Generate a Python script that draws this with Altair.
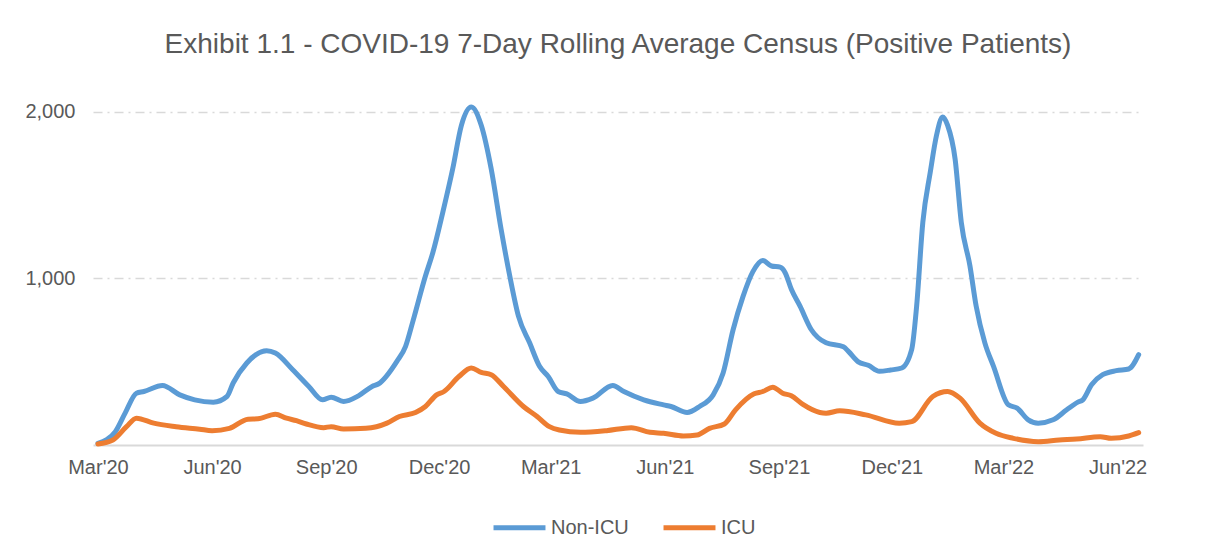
import altair as alt
import pandas as pd

title_text = "Exhibit 1.1 - COVID-19 7-Day Rolling Average Census (Positive Patients)"
series_names = ["Non-ICU", "ICU"]
series_colors = ["#5B9BD5", "#ED7D31"]

non_icu_dates = [
    "2020-03-01", "2020-03-15", "2020-03-23", "2020-04-01", "2020-04-07", "2020-04-22",
    "2020-05-06", "2020-05-18", "2020-06-02", "2020-06-13", "2020-06-18", "2020-06-29",
    "2020-07-15", "2020-07-22", "2020-08-05", "2020-08-18", "2020-08-29", "2020-09-05",
    "2020-09-15", "2020-09-27", "2020-10-08", "2020-10-13", "2020-10-28", "2020-11-04",
    "2020-11-10", "2020-11-20", "2020-11-26", "2020-12-04", "2020-12-12", "2020-12-19",
    "2020-12-27", "2021-01-04", "2021-01-12", "2021-01-20", "2021-01-27", "2021-02-03",
    "2021-02-12", "2021-02-20", "2021-02-27", "2021-03-07", "2021-03-14", "2021-03-25",
    "2021-04-04", "2021-04-20", "2021-04-29", "2021-05-15", "2021-05-31", "2021-06-06",
    "2021-06-19", "2021-06-29", "2021-07-10", "2021-07-18", "2021-07-26", "2021-08-03",
    "2021-08-11", "2021-08-19", "2021-08-26", "2021-09-02", "2021-09-06", "2021-09-11",
    "2021-09-18", "2021-09-27", "2021-10-09", "2021-10-23", "2021-10-27", "2021-11-04",
    "2021-11-12", "2021-11-21", "2021-11-30", "2021-12-09", "2021-12-17", "2021-12-21",
    "2021-12-26", "2022-01-01", "2022-01-06", "2022-01-11", "2022-01-15", "2022-01-21",
    "2022-01-26", "2022-02-02", "2022-02-07", "2022-02-14", "2022-02-21", "2022-03-05",
    "2022-03-12", "2022-03-21", "2022-03-29", "2022-04-10", "2022-04-21", "2022-04-30",
    "2022-05-04", "2022-05-11", "2022-05-20", "2022-05-31", "2022-06-10", "2022-06-18",
]
non_icu_values = [
    10, 80, 193, 311, 321, 357,
    301, 271, 257, 291, 372, 492,
    566, 552, 452, 351, 271, 287,
    261, 295, 351, 366, 502, 592,
    745, 1014, 1155, 1396, 1657, 1918,
    2028, 1918, 1657, 1295, 1014, 773,
    613, 472, 411, 321, 307, 261,
    281, 357, 321, 271, 241, 231,
    195, 231, 301, 432, 690, 890,
    1040, 1107, 1074, 1067, 1034, 934,
    833, 693, 613, 589, 562, 499,
    478, 442, 450, 462, 572, 833,
    1336, 1637, 1857, 1968, 1918, 1717,
    1336, 1074, 833, 613, 472, 241,
    221, 151, 131, 151, 211, 257,
    271, 361, 422, 446, 456, 542,
]

icu_dates = [
    "2020-03-01", "2020-03-13", "2020-03-24", "2020-04-01", "2020-04-15", "2020-05-03",
    "2020-05-22", "2020-06-01", "2020-06-15", "2020-06-30", "2020-07-08", "2020-07-22",
    "2020-07-31", "2020-08-08", "2020-08-16", "2020-08-30", "2020-09-05", "2020-09-15",
    "2020-10-03", "2020-10-20", "2020-10-30", "2020-11-12", "2020-11-20", "2020-11-29",
    "2020-12-05", "2020-12-17", "2020-12-27", "2021-01-04", "2021-01-12", "2021-01-22",
    "2021-02-07", "2021-02-18", "2021-02-28", "2021-03-08", "2021-03-25", "2021-04-15",
    "2021-05-05", "2021-05-20", "2021-05-31", "2021-06-16", "2021-06-27", "2021-07-07",
    "2021-07-19", "2021-07-28", "2021-08-12", "2021-08-19", "2021-08-27", "2021-09-04",
    "2021-09-11", "2021-09-20", "2021-10-04", "2021-10-09", "2021-10-20", "2021-11-10",
    "2021-12-07", "2021-12-17", "2022-01-03", "2022-01-15", "2022-01-25", "2022-02-10",
    "2022-02-23", "2022-03-09", "2022-03-29", "2022-04-15", "2022-04-29", "2022-05-18",
    "2022-05-27", "2022-06-10", "2022-06-18",
]
icu_values = [
    6, 30, 110, 161, 131, 110,
    95, 86, 100, 155, 157, 185,
    161, 146, 126, 104, 110, 96,
    100, 131, 171, 195, 231, 301,
    321, 411, 462, 436, 422, 351,
    231, 171, 110, 90, 76, 86,
    104, 76, 70, 54, 60, 100,
    126, 211, 307, 321, 347, 311,
    295, 245, 195, 191, 205, 181,
    131, 140, 291, 321, 281, 131,
    70, 40, 20, 30, 36, 50,
    40, 54, 74,
]

y_tick_values = [1000, 2000]
x_tick_dates = [
    (2020, 3), (2020, 6), (2020, 9), (2020, 12), (2021, 3),
    (2021, 6), (2021, 9), (2021, 12), (2022, 3), (2022, 6),
]

df = pd.concat([
    pd.DataFrame({"date": pd.to_datetime(non_icu_dates), "census": non_icu_values, "series": series_names[0]}),
    pd.DataFrame({"date": pd.to_datetime(icu_dates), "census": icu_values, "series": series_names[1]}),
], ignore_index=True)
df["date"] = df["date"].dt.strftime("%Y-%m-%dT%H:%M:%S")

font = "Liberation Sans"
text_color = "#595959"

chart = alt.Chart(df).mark_line(
    strokeWidth=5, interpolate="monotone", strokeCap="round", strokeJoin="round"
).encode(
    x=alt.X(
        "date:T",
        scale=alt.Scale(domain=[
            alt.DateTime(year=2020, month=2, date=26),
            alt.DateTime(year=2022, month=6, date=21, hours=12),
        ]),
        axis=alt.Axis(
            values=[alt.DateTime(year=y, month=m, date=1) for y, m in x_tick_dates],
            labelExpr="timeFormat(datum.value, \"%b'%y\")",
            title=None, grid=False, ticks=False,
            domainColor="#D9D9D9", domainWidth=2,
            labelFont=font, labelFontSize=20, labelColor=text_color,
            labelPadding=12, labelFlush=False,
        ),
    ),
    y=alt.Y(
        "census:Q",
        scale=alt.Scale(domain=[0, 2100], nice=False),
        axis=alt.Axis(
            values=y_tick_values, format=",.0f", title=None,
            domain=False, ticks=False,
            gridColor="#D9D9D9", gridWidth=1.5, gridDash=[9, 5, 2, 5],
            labelFont=font, labelFontSize=20, labelColor=text_color,
            labelPadding=18,
        ),
    ),
    color=alt.Color(
        "series:N",
        scale=alt.Scale(domain=series_names, range=series_colors),
        legend=alt.Legend(
            title=None, orient="none", direction="horizontal",
            legendX=398, legendY=404,
            symbolType="stroke", symbolSize=2700, symbolStrokeWidth=5,
            labelFont=font, labelFontSize=20, labelColor=text_color,
            columnPadding=24, labelOffset=3,
        ),
    ),
    order=alt.Order("series_order:Q"),
).transform_calculate(
    series_order="datum.series === 'Non-ICU' ? 0 : 1"
).properties(
    width=1050,
    height=350,
    background="white",
    title=alt.TitleParams(
        text=title_text, font=font, fontSize=28, fontWeight="normal",
        color=text_color, anchor="middle", offset=36,
    ),
    autosize=alt.AutoSizeParams(type="none"),
    padding={"left": 85, "top": 87, "right": 70, "bottom": 104},
).configure_view(
    strokeWidth=0, stroke=None
)

chart.save("out.html", embed_options={"renderer": "svg", "actions": False})
